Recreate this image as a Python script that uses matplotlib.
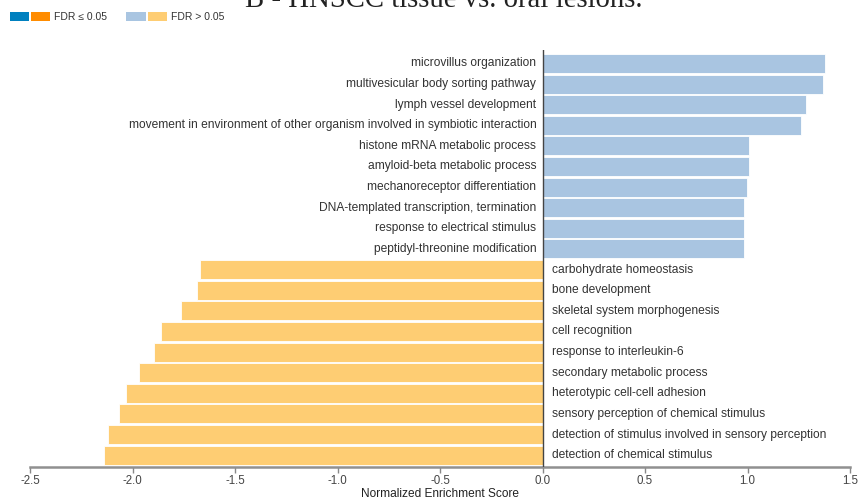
import matplotlib
matplotlib.use("Agg")
import matplotlib.pyplot as plt
from matplotlib.patches import Rectangle

# GO terms, top to bottom
terms = [
    "microvillus organization",
    "multivesicular body sorting pathway",
    "lymph vessel development",
    "movement in environment of other organism involved in symbiotic interaction",
    "histone mRNA metabolic process",
    "amyloid-beta metabolic process",
    "mechanoreceptor differentiation",
    "DNA-templated transcription, termination",
    "response to electrical stimulus",
    "peptidyl-threonine modification",
    "carbohydrate homeostasis",
    "bone development",
    "skeletal system morphogenesis",
    "cell recognition",
    "response to interleukin-6",
    "secondary metabolic process",
    "heterotypic cell-cell adhesion",
    "sensory perception of chemical stimulus",
    "detection of stimulus involved in sensory perception",
    "detection of chemical stimulus",
]
nes = [1.378, 1.370, 1.283, 1.262, 1.007, 1.007, 0.997, 0.983, 0.982, 0.982,
       -1.671, -1.687, -1.765, -1.860, -1.893, -1.970, -2.033, -2.066, -2.120, -2.137]
significant = [False] * 20

xticks = [-2.5, -2.0, -1.5, -1.0, -0.5, 0.0, 0.5, 1.0, 1.5]
title = "B - HNSCC tissue vs. oral lesions."

c_up_sig, c_dn_sig = "#0080bf", "#ff8c00"
c_up, c_dn = "#a9c5e1", "#fecd73"

W, H = 861, 500
fig = plt.figure(figsize=(W / 100, H / 100), dpi=100)
ax = fig.add_axes([30 / W, 1 - 466.5 / H, 820 / W, 416.5 / H])

ys = list(range(len(terms)))
colors = []
for v, s in zip(nes, significant):
    if v >= 0:
        colors.append(c_up_sig if s else c_up)
    else:
        colors.append(c_dn_sig if s else c_dn)

ax.barh(ys, nes, height=0.92, color=colors, edgecolor="white", linewidth=0.6, zorder=2)

for y, v, t in zip(ys, nes, terms):
    if v >= 0:
        ax.text(-0.03, y, t, ha="right", va="center", fontsize=8.65,
                color="#333333", family="Liberation Sans")
    else:
        ax.text(0.045, y, t, ha="left", va="center", fontsize=8.65,
                color="#333333", family="Liberation Sans")

ax.set_xlim(-2.5, 1.5)
ax.set_ylim(19.55, -0.65)
ax.axvline(0, color="#444444", lw=1, zorder=3)

for sp in ["top", "right", "left"]:
    ax.spines[sp].set_visible(False)
ax.spines["bottom"].set_color("#909090")
ax.spines["bottom"].set_linewidth(1.8)
ax.set_yticks([])
ax.set_xticks(xticks)
ax.set_xticklabels([f"{t:.1f}" for t in xticks])
ax.tick_params(axis="x", length=4, width=1, color="#888888", labelsize=8.3,
               labelcolor="#444444", pad=2)
for lab in ax.get_xticklabels():
    lab.set_family("Liberation Sans")
ax.set_xlabel("Normalized Enrichment Score", fontsize=8.6, color="#222222",
              labelpad=1, family="Liberation Sans")

# title, partly cut off at the top
fig.text(444 / W, 1 - 7 / H, title, ha="center", va="baseline",
         fontsize=20.7, family="Liberation Serif", color="#222222")

# legend
def px_rect(x0, x1, y0, y1, c):
    fig.patches.append(Rectangle((x0 / W, 1 - y1 / H), (x1 - x0) / W, (y1 - y0) / H,
                                 transform=fig.transFigure, color=c, lw=0))

px_rect(10, 29, 12.5, 21, c_up_sig)
px_rect(31, 50, 12.5, 21, c_dn_sig)
fig.text(54 / W, 1 - 17 / H, "FDR \u2264 0.05", va="center", fontsize=7.5,
         color="#333333", family=["Liberation Sans", "DejaVu Sans"])
px_rect(126, 146, 12.5, 21, c_up)
px_rect(148, 167, 12.5, 21, c_dn)
fig.text(171 / W, 1 - 17 / H, "FDR > 0.05", va="center", fontsize=7.5,
         color="#333333", family="Liberation Sans")

fig.savefig("out.png", dpi=100)
